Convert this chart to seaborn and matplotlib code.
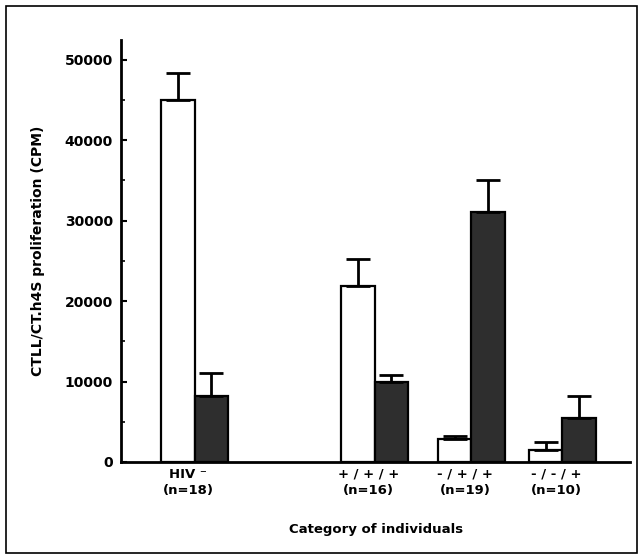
import matplotlib
matplotlib.use("Agg")
import matplotlib.pyplot as plt
import numpy as np
import pandas as pd
import seaborn as sns
from matplotlib.patches import Rectangle
from matplotlib.ticker import MultipleLocator

# values (CPM)
groups = ["HIV-", "+/+/+", "-/+/+", "-/-/+"]
tick_labels = ["HIV \u207b\n(n=18)", "+ / + / +\n(n=16)",
               "- / + / +\n(n=19)", "- / - / +\n(n=10)"]
open_means = [45000, 21900, 2800, 1550]
open_err = [3400, 3300, 450, 950]
filled_means = [8200, 10000, 31100, 5500]
filled_err = [2800, 800, 3900, 2700]

# horizontal spacing of the groups (gap after HIV-)
group_pos = [0.0, 1.86, 2.86, 3.8]

df = pd.DataFrame({
    "pos": group_pos * 2,
    "series": ["open"] * len(groups) + ["filled"] * len(groups),
    "cpm": open_means + filled_means,
})

sns.set_style("ticks", {"text.color": "black", "axes.labelcolor": "black",
                        "xtick.color": "black", "ytick.color": "black",
                        "axes.edgecolor": "black"})
plt.rcParams["font.family"] = ["DejaVu Sans"]
plt.rcParams["font.weight"] = "bold"

fig = plt.figure(figsize=(6.41, 5.57), dpi=100)
ax = fig.add_axes([0.189, 0.1706, 0.794, 0.757])

sns.barplot(data=df, x="pos", y="cpm", hue="series", native_scale=True,
            palette={"open": "white", "filled": "#2e2e2e"},
            hue_order=["open", "filled"], width=0.734, errorbar=None,
            edgecolor="black", linewidth=1.6, legend=False, ax=ax)

for cont, errs in zip(ax.containers, [open_err, filled_err]):
    for bar, e in zip(cont, errs):
        cx = bar.get_x() + bar.get_width() / 2
        h = bar.get_height()
        ax.errorbar(cx, h, yerr=[[0], [e]], fmt="none", ecolor="black",
                    elinewidth=2, capsize=8.5, capthick=2)

ax.set_xlim(-0.76, 4.5)
ax.set_ylim(0, 52400)
ax.yaxis.set_major_locator(MultipleLocator(10000))
ax.yaxis.set_minor_locator(MultipleLocator(5000))
ax.tick_params(axis="y", direction="in", length=4, width=1.5, labelsize=10, pad=6)
ax.tick_params(axis="y", which="minor", direction="in", length=3, width=1.2)
ax.set_xticks(np.array(group_pos) - 0.065)
ax.set_xticklabels(tick_labels, fontsize=9.5, fontweight="bold", linespacing=1.3)
ax.tick_params(axis="x", length=0, pad=4)
for lab in ax.get_yticklabels():
    lab.set_fontweight("bold")

ax.set_xlabel("Category of individuals", fontsize=9.5, fontweight="bold", labelpad=19)
ax.set_ylabel("CTLL/CT.h4S proliferation (CPM)", fontsize=10, fontweight="bold", labelpad=14)
sns.despine(ax=ax)
for sp in ["left", "bottom"]:
    ax.spines[sp].set_linewidth(2)

fig.patches.append(Rectangle((0.009, 0.008), 0.985, 0.982, transform=fig.transFigure,
                             fill=False, edgecolor="black", linewidth=1.2))

fig.savefig("out.png", dpi=100)
